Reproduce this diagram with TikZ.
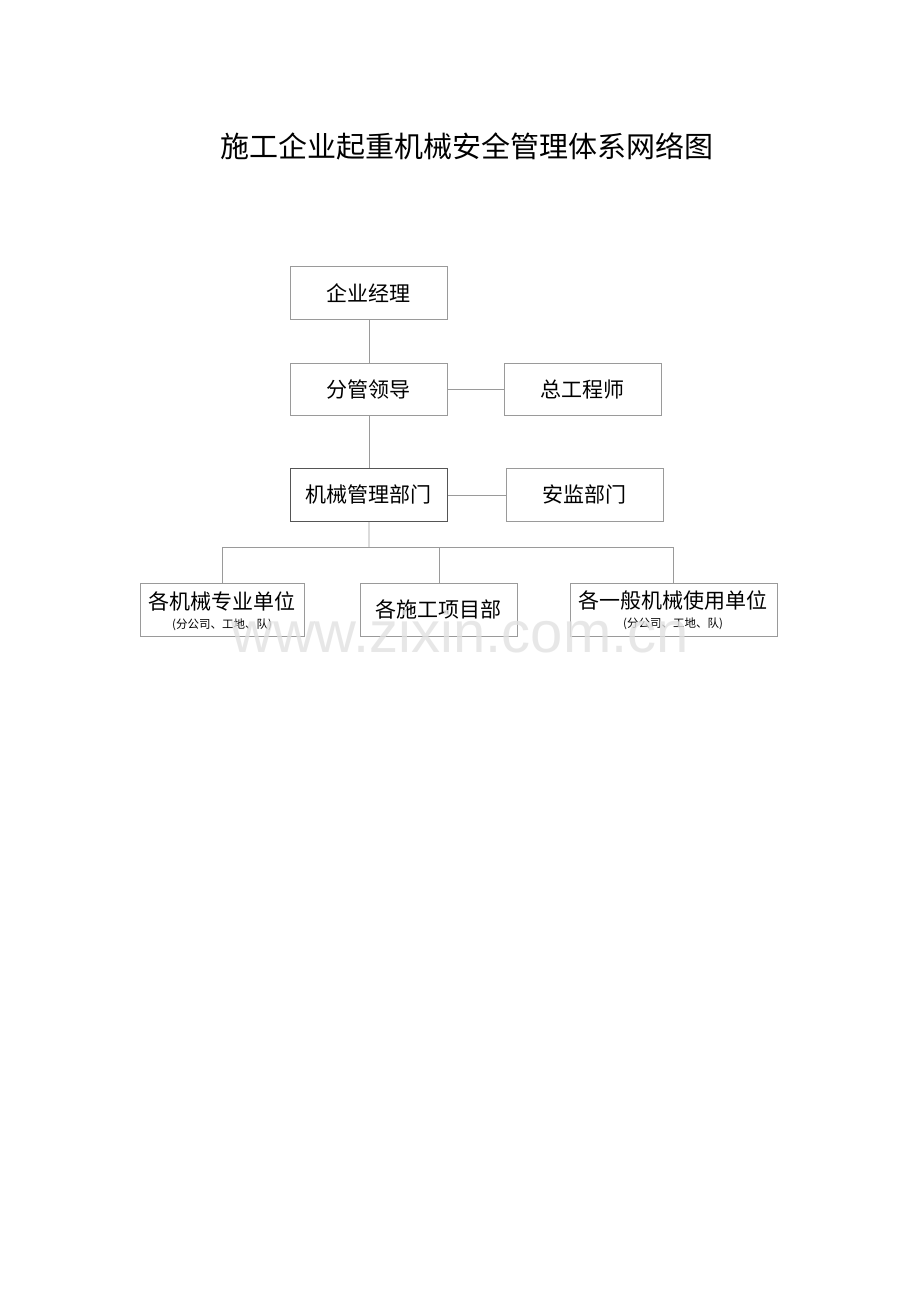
\documentclass[tikz,border=0pt]{standalone}
\usepackage{fontspec}
\newfontfamily\cjk{Noto Sans CJK SC}
\newfontfamily\wm{Liberation Sans}
\definecolor{boxgray}{HTML}{9A9A9A}
\definecolor{darkgray2}{HTML}{555555}
\definecolor{wmgray}{HTML}{E2E2E2}
\begin{document}
\begin{tikzpicture}[x=1pt,y=-1pt,
  box/.style={draw=boxgray,line width=0.8pt,fill=white,inner sep=0pt,anchor=north west},
  lbl/.style={font=\cjk\fontsize{21}{25}\selectfont,text=black},
  sub/.style={font=\cjk\fontsize{11.5}{13}\selectfont,text=black},
  conn/.style={draw=boxgray,line width=0.8pt}]
\useasboundingbox[fill=white] (0,0) rectangle (920,1302);
\node[font=\cjk\fontsize{29}{33}\selectfont] (title) at (467,146) {施工企业起重机械安全管理体系网络图};
% boxes
\node[box,minimum width=157pt,minimum height=53pt] (ceo) at (290,266) {};
\node[box,minimum width=157pt,minimum height=52pt] (lead) at (290,363) {};
\node[box,minimum width=157pt,minimum height=52pt] (eng) at (504,363) {};
\node[box,draw=darkgray2,minimum width=157pt,minimum height=53pt] (mech) at (290,468) {};
\node[box,minimum width=157pt,minimum height=53pt] (safe) at (506,468) {};
\node[box,minimum width=164pt,minimum height=53pt] (u1) at (140,583) {};
\node[box,minimum width=157pt,minimum height=53pt] (u2) at (360,583) {};
\node[box,minimum width=207pt,minimum height=53pt] (u3) at (570,583) {};
% labels
\node[lbl] (tceo) at (ceo.center) {企业经理};
\node[lbl] (tlead) at (lead.center) {分管领导};
\node[lbl] (teng) at (eng.center) {总工程师};
\node[lbl] (tmech) at (mech.center) {机械管理部门};
\node[lbl] (tsafe) at (safe.center) {安监部门};
\node[lbl] (tu1) at (222,601) {各机械专业单位};
\node[sub] (su1) at (222,625) {(分公司、工地、队)};
\node[lbl] (tu2) at (u2.center) {各施工项目部};
\node[lbl] (tu3) at (673,600) {各一般机械使用单位};
\node[sub] (su3) at (673,624) {(分公司、工地、队)};
% connectors
\coordinate (bus) at (369,547);
\coordinate (busl) at (222,547);
\coordinate (busm) at (439,547);
\coordinate (busr) at (673,547);
\draw[conn] (ceo.south) -- (lead.north);
\draw[conn] (lead.south) -- (mech.north);
\draw[conn] (lead.east) -- (eng.west);
\draw[conn] (mech.east) -- (safe.west);
\draw[conn] (mech.south) -- (bus);
\draw[conn] (busl) -- (busr);
\draw[conn] (busl) -- (u1.north -| busl);
\draw[conn] (busm) -- (u2.north -| busm);
\draw[conn] (busr) -- (u3.north -| busr);
% watermark
\node[font=\wm\fontsize{58}{62}\selectfont,text=wmgray,opacity=0.8] (wmark) at (460,632) {www.zixin.com.cn};
\end{tikzpicture}
\end{document}
